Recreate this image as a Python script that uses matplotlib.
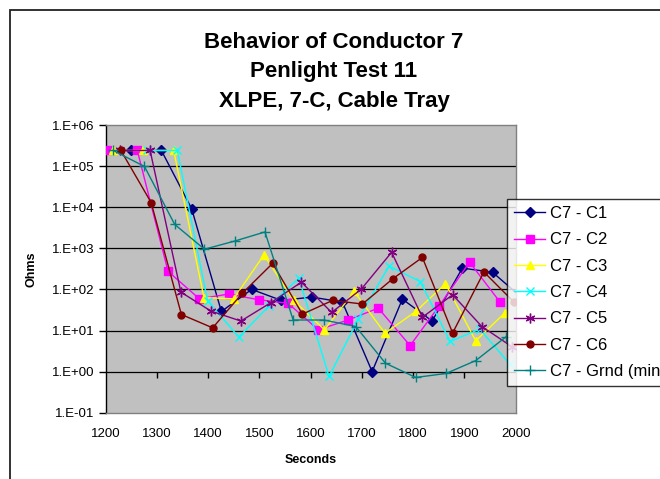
import numpy as np
import matplotlib
matplotlib.use("Agg")
import matplotlib.pyplot as plt
from matplotlib.patches import Rectangle
from matplotlib.ticker import FixedLocator, FuncFormatter, NullLocator

plt.rcParams["font.family"] = ["Liberation Sans", "DejaVu Sans"]

# sample times (s) and resistance (ohms)
c1_t = [1249, 1309, 1368, 1426, 1485, 1543, 1603, 1662, 1720, 1779, 1837, 1896, 1955, 2014]
c1_v = [2.4e5, 2.4e5, 9.2e3, 29, 100, 54, 65, 49, 1.0, 58, 17, 330, 260, 60]

c2_t = [1203, 1262, 1322, 1383, 1440, 1499, 1556, 1615, 1673, 1732, 1794, 1851, 1910, 1969]
c2_v = [2.4e5, 2.4e5, 275, 59, 77, 56, 46, 10.4, 18, 35, 4.3, 40, 460, 50]

c3_t = [1214, 1274, 1333, 1392, 1450, 1509, 1567, 1627, 1685, 1745, 1805, 1863, 1922, 1979]
c3_v = [2.4e5, 2.4e5, 2.4e5, 63, 59, 690, 54, 10.4, 89, 8.6, 29, 137, 5.6, 27]

c4_t = [1281, 1340, 1399, 1460, 1519, 1577, 1636, 1693, 1753, 1814, 1872, 1930, 1989]
c4_v = [2.4e5, 2.4e5, 53, 6.9, 40, 187, 0.76, 19, 370, 155, 5.4, 10.8, 1.5]

c5_t = [1228, 1287, 1347, 1406, 1464, 1523, 1582, 1641, 1699, 1758, 1818, 1877, 1934, 1993]
c5_v = [2.4e5, 2.4e5, 86, 29.5, 17, 48, 150, 27.5, 102, 800, 21, 74, 12.5, 4]

c6_t = [1230, 1289, 1348, 1409, 1467, 1526, 1584, 1643, 1701, 1760, 1818, 1877, 1938, 1996]
c6_v = [2.4e5, 1.3e4, 24.5, 11.6, 81, 430, 25, 54, 44, 180, 600, 8.7, 265, 50]

gnd_t = [1215, 1276, 1335, 1393, 1452, 1511, 1566, 1626, 1688, 1746, 1805, 1864, 1922, 1981]
gnd_v = [2.4e5, 9.8e4, 3.8e3, 950, 1.5e3, 2.5e3, 18, 18, 12.5, 1.6, 0.72, 0.9, 1.85, 7]

labels = ["C7 - C1", "C7 - C2", "C7 - C3", "C7 - C4", "C7 - C5", "C7 - C6", "C7 - Grnd (min)"]
x_ticks = [1200, 1300, 1400, 1500, 1600, 1700, 1800, 1900, 2000]
y_ticks = [1e-1, 1e0, 1e1, 1e2, 1e3, 1e4, 1e5, 1e6]

series = [
    (c1_t, c1_v, "#000080", "D", 5),
    (c2_t, c2_v, "#FF00FF", "s", 5.5),
    (c3_t, c3_v, "#FFFF00", "^", 6),
    (c4_t, c4_v, "#00FFFF", "x", 6),
    (c5_t, c5_v, "#800080", (6, 2, 0), 7),
    (c6_t, c6_v, "#800000", "o", 5),
    (gnd_t, gnd_v, "#008080", "+", 7),
]

W, H = 660, 479
fig = plt.figure(figsize=(W / 100, H / 100), dpi=100)
fig.patch.set_facecolor("white")

# outer frame of the chart object (runs off the right/bottom edges)
fig.patches.append(Rectangle((10 / W, -0.2), 1.2, 1.2 - 10 / H,
                             transform=fig.transFigure, fill=False,
                             edgecolor="#222222", linewidth=1.3))

ax = fig.add_axes([105.5 / W, 1 - 412.7 / H, (515.7 - 105.5) / W, (412.7 - 125) / H])
ax.set_facecolor("#C0C0C0")
ax.set_yscale("log")
ax.set_xlim(1200, 2000)
ax.set_ylim(1e-1, 1e6)

for t, v, col, mk, ms in series:
    ax.plot(t, v, color=col, lw=1.0, marker=mk, markersize=ms,
            markerfacecolor=col, markeredgecolor=col, markeredgewidth=1.0,
            clip_on=True, zorder=3)

# gridlines at each decade
for yv in y_ticks[1:-1]:
    ax.axhline(yv, color="black", lw=0.9, zorder=1)

# x axis crosses at 1 ohm: tick marks there
ax.plot(x_ticks[1:-1], [1] * (len(x_ticks) - 2), linestyle="none", marker=3,
        markersize=4, color="black", markeredgewidth=1.0, zorder=2)

ax.yaxis.set_major_locator(FixedLocator(y_ticks))
ax.yaxis.set_minor_locator(NullLocator())
ax.yaxis.set_major_formatter(FuncFormatter(lambda v, p: "1.E%+03d" % int(round(np.log10(v)))))
ax.xaxis.set_major_locator(FixedLocator(x_ticks))
ax.xaxis.set_minor_locator(NullLocator())

ax.tick_params(axis="y", direction="out", length=5, width=1, pad=3,
               labelsize=9.5, color="black")
ax.tick_params(axis="x", length=0, pad=11, labelsize=9.5)

for side in ["top", "right", "bottom"]:
    ax.spines[side].set_color("#808080")
    ax.spines[side].set_linewidth(1.0)
ax.spines["left"].set_color("black")
ax.spines["left"].set_linewidth(1.0)

ax.set_xlabel("Seconds", fontsize=9, fontweight="bold")
ax.xaxis.set_label_coords(0.5, -0.143)
ax.set_ylabel("Ohms", fontsize=9, fontweight="bold")
ax.yaxis.set_label_coords(-0.165, 0.5)

titles = ["Behavior of Conductor 7", "Penlight Test 11", "XLPE, 7-C, Cable Tray"]
for i, tl in enumerate(titles):
    fig.text(334 / W, 1 - (42 + 29.5 * i) / H, tl, ha="center", va="center",
             fontsize=16, fontweight="bold")

handles = ax.get_lines()[:len(labels)]
leg = fig.legend(handles, labels, loc="upper left",
                 bbox_to_anchor=(507 / W, 1 - 199 / H), borderaxespad=0,
                 fontsize=12, frameon=True, fancybox=False, shadow=False,
                 handlelength=1.86, handletextpad=0.3, labelspacing=0.68,
                 borderpad=0.42, numpoints=1)
leg.get_frame().set_edgecolor("black")
leg.get_frame().set_linewidth(1.0)
leg.get_frame().set_facecolor("white")

fig.savefig("out.png", dpi=100)
